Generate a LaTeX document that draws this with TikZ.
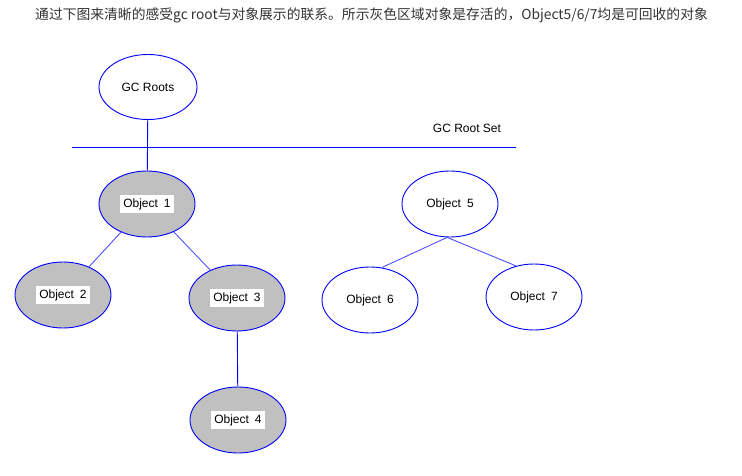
\documentclass[tikz,border=0pt]{standalone}
\usepackage{fontspec}
\setmainfont{Liberation Sans}
\newfontfamily\cjkfont{Noto Sans CJK SC}
\usetikzlibrary{shapes.geometric}
\definecolor{rootblue}{RGB}{0,0,255}
\definecolor{linkblue}{RGB}{80,80,255}
\definecolor{livegray}{RGB}{192,192,192}
\definecolor{titlegray}{RGB}{51,51,51}
\newcommand{\whitelabel}[1]{\colorbox{white}{#1}}

\begin{document}
\begin{tikzpicture}
[x=1pt, y=-1pt,
  obj/.style={ellipse, draw=rootblue, line width=0.9pt, minimum width=96pt, minimum height=66pt,
    inner sep=0pt, font=\fontsize{12}{14}\selectfont},
  live/.style={obj, fill=livegray},
  dead/.style={obj, fill=white},
  link/.style={draw=linkblue, line width=0.9pt}]
  \useasboundingbox (0,0) rectangle (742,476);
  \node[anchor=west, text=titlegray, inner sep=0pt, font=\cjkfont\fontsize{13.8}{16}\selectfont] (title) at (35,15)
    {通过下图来清晰的感受gc root与对象展示的联系。所示灰色区域对象是存活的，Object5/6/7均是可回收的对象};
  \node[dead, minimum width=98pt, minimum height=65pt] (roots) at (148,87) {GC Roots};
  \coordinate (setleft) at (72,147);
  \coordinate (setright) at (516,147);
  \node[font=\fontsize{12}{14}\selectfont] (setlabel) at (467,128) {GC Root Set};
  \node[live] (o1) at (147,204) {\whitelabel{Object\enspace 1}};
  \node[live] (o2) at (63,295) {\whitelabel{Object\enspace 2}};
  \node[live] (o3) at (237,298) {\whitelabel{Object\enspace 3}};
  \node[live] (o4) at (238,420) {\whitelabel{Object\enspace 4}};
  \node[dead] (o5) at (450,204) {Object\enspace 5};
  \node[dead] (o6) at (370,300) {Object\enspace 6};
  \node[dead] (o7) at (534,297) {Object\enspace 7};
  \draw[rootblue, line width=0.9pt] (setleft) -- (setright);
  \draw[rootblue, line width=0.9pt] (roots) -- (o1);
  \draw[link] (o1) -- (o2);
  \draw[link] (o1) -- (o3);
  \draw[rootblue, line width=0.9pt] (o3) -- (o4);
  \draw[link] (o5.265) -- (o6.70);
  \draw[link] (o5.265) -- (o7.120);
\end{tikzpicture}
\end{document}
